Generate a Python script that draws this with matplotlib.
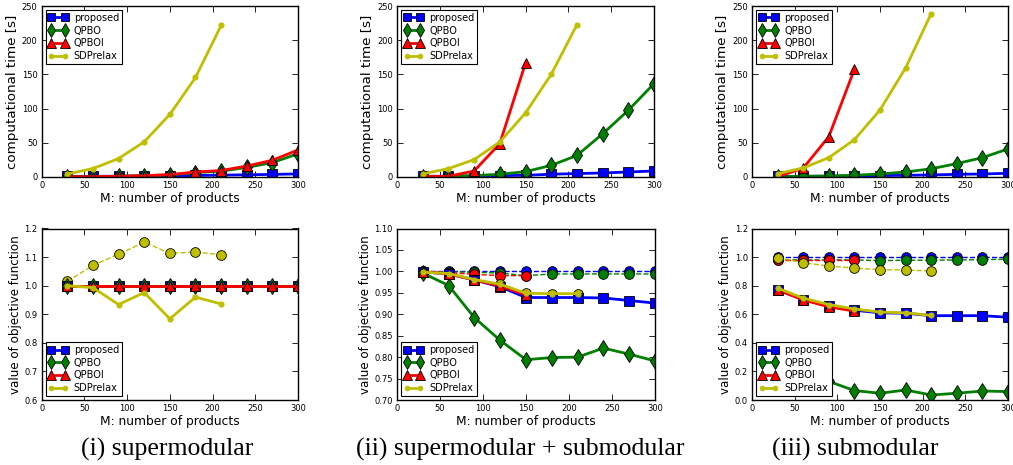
import matplotlib
matplotlib.use("Agg")
import matplotlib.pyplot as plt

# ---------------- data ----------------
M = [30, 60, 90, 120, 150, 180, 210, 240, 270, 300]

# (i) supermodular : computational time
t1_proposed = [1.0, 1.0, 1.2, 1.5, 1.8, 2.2, 2.7, 3.2, 3.8, 4.5]
t1_qpbo     = [0.3, 0.5, 1.0, 2.0, 3.0, 6.5, 8.5, 14.0, 21.0, 34.0]
t1_qpboi    = [0.3, 0.5, 1.0, 2.0, 3.5, 7.3, 9.5, 16.0, 24.5, 39.5]
t1_sdp      = [4.4, 12.3, 27.0, 51.5, 91.5, 145.5, 221.5]

# (ii) supermodular + submodular : computational time
t2_proposed = [1.0, 1.2, 1.5, 2.0, 2.5, 4.0, 5.0, 5.9, 7.3, 8.8]
t2_qpbo     = [0.5, 1.0, 2.0, 4.0, 7.8, 17.0, 31.5, 63.0, 97.5, 136.5]
t2_qpboi    = [0.5, 1.0, 8.8, 48.8, 166.5]
t2_sdp      = [4.4, 12.3, 25.4, 51.2, 93.6, 150.0, 222.5]

# (iii) submodular : computational time
t3_proposed = [1.0, 1.0, 1.2, 1.5, 2.0, 2.5, 3.0, 3.9, 4.4, 5.4]
t3_qpbo     = [0.5, 1.0, 1.5, 2.5, 4.4, 7.3, 12.0, 19.6, 28.3, 41.0]
t3_qpboi    = [0.5, 13.0, 59.0, 157.5]
t3_sdp      = [4.9, 13.2, 28.3, 54.6, 98.0, 159.4, 239.0]

# (i) supermodular : objective (solid) and bound (dashed)
v1_proposed = [1.0] * 10
v1_qpbo     = [1.0] * 10
v1_qpboi    = [1.0] * 10
v1_sdp      = [1.0, 0.993, 0.934, 0.976, 0.884, 0.960, 0.936]
d1_proposed = [1.0] * 10
d1_qpbo     = [1.0] * 10
d1_qpboi    = [1.0] * 10
d1_sdp      = [1.015, 1.071, 1.110, 1.152, 1.113, 1.118, 1.108]

# (ii) supermodular + submodular : objective / bound
v2_proposed = [0.999, 0.994, 0.980, 0.964, 0.939, 0.939, 0.939, 0.938, 0.932, 0.926]
v2_qpbo     = [0.996, 0.967, 0.892, 0.839, 0.794, 0.799, 0.800, 0.821, 0.807, 0.791]
v2_qpboi    = [0.999, 0.994, 0.980, 0.966, 0.945]
v2_sdp      = [0.998, 0.995, 0.981, 0.970, 0.949, 0.948, 0.948]
d2_proposed = [1.0] * 10
d2_qpbo     = [1.0, 0.999, 0.998, 0.996, 0.990, 0.994, 0.994, 0.994, 0.994, 0.994]
d2_qpboi    = [1.0, 0.997, 0.993, 0.990, 0.990]
d2_sdp      = [0.999, 0.995, 0.981, 0.970, 0.949, 0.948, 0.948]

# (iii) submodular : objective / bound
v3_proposed = [0.769, 0.703, 0.661, 0.628, 0.610, 0.607, 0.590, 0.590, 0.590, 0.579]
v3_qpbo     = [0.26, 0.18, 0.13, 0.066, 0.047, 0.070, 0.035, 0.047, 0.063, 0.059]
v3_qpboi    = [0.772, 0.700, 0.652, 0.622]
v3_sdp      = [0.783, 0.713, 0.668, 0.637, 0.615, 0.610, 0.592]
d3_proposed = [1.0] * 10
d3_qpbo     = [0.980, 0.980, 0.980, 0.980, 0.975, 0.978, 0.978, 0.980, 0.982, 0.985]
d3_qpboi    = [0.980, 0.980, 0.980, 0.980]
d3_sdp      = [0.996, 0.961, 0.937, 0.923, 0.912, 0.910, 0.902]

labels = ["proposed", "QPBO", "QPBOI", "SDPrelax"]
captions = ["(i) supermodular", "(ii) supermodular + submodular", "(iii) submodular"]

# ---------------- style ----------------
colors = ["b", "g", "r", "y"]
markers = ["s", "d", "^", "o"]
msizes = [6.5, 8, 7.5, 3.8]

plt.rcParams.update({
    "font.family": "DejaVu Sans",
    "xtick.direction": "in", "ytick.direction": "in",
    "xtick.top": True, "ytick.right": True,
    "xtick.major.size": 4, "ytick.major.size": 4,
    "xtick.major.width": 0.6, "ytick.major.width": 0.6,
    "xtick.labelsize": 6, "ytick.labelsize": 6,
    "xtick.major.pad": 3, "ytick.major.pad": 3,
    "axes.linewidth": 1.0,
})

W, H = 1013, 465
fig = plt.figure(figsize=(W / 100, H / 100), dpi=100)

def rect(l, t, r, b):
    return [l / W, 1 - b / H, (r - l) / W, (b - t) / H]

top_rects = [rect(41.7, 6, 298, 177), rect(397, 6, 654, 177), rect(752, 6, 1008, 177)]
bot_rects = [rect(41.7, 228.5, 298, 400), rect(397, 228.5, 655, 400), rect(752, 228.5, 1008, 400)]

time_data = [
    (t1_proposed, t1_qpbo, t1_qpboi, t1_sdp),
    (t2_proposed, t2_qpbo, t2_qpboi, t2_sdp),
    (t3_proposed, t3_qpbo, t3_qpboi, t3_sdp),
]
val_data = [
    (v1_proposed, v1_qpbo, v1_qpboi, v1_sdp),
    (v2_proposed, v2_qpbo, v2_qpboi, v2_sdp),
    (v3_proposed, v3_qpbo, v3_qpboi, v3_sdp),
]
bnd_data = [
    (d1_proposed, d1_qpbo, d1_qpboi, d1_sdp),
    (d2_proposed, d2_qpbo, d2_qpboi, d2_sdp),
    (d3_proposed, d3_qpbo, d3_qpboi, d3_sdp),
]
bot_ylims = [(0.6, 1.2, 0.1, "%.1f"), (0.70, 1.10, 0.05, "%.2f"), (0.0, 1.2, 0.2, "%.1f")]

def draw_solid(ax, series):
    for k, ys in enumerate(series):
        mec = "y" if k == 3 else "k"
        ax.plot(M[:len(ys)], ys, color=colors[k], lw=2, marker=markers[k],
                ms=msizes[k], mec=mec, mew=0.6, label=labels[k])

def legend(ax, loc):
    lg = ax.legend(loc=loc, fontsize=7, numpoints=2, handlelength=2.0,
                   fancybox=False, framealpha=1, borderpad=0.3,
                   labelspacing=0.28, handletextpad=0.6, borderaxespad=0.4,
                   markerscale=0.9)
    lg.get_frame().set_edgecolor("k")
    lg.get_frame().set_linewidth(0.8)

for i in range(3):
    ax = fig.add_axes(top_rects[i])
    draw_solid(ax, time_data[i])
    ax.set_xlim(0, 300)
    ax.set_ylim(0, 250)
    ax.set_xticks(range(0, 301, 50))
    ax.set_yticks(range(0, 251, 50))
    ax.set_xlabel("M: number of products", fontsize=8.8, labelpad=1)
    ax.set_ylabel("computational time [s]", fontsize=9.7, labelpad=2)
    legend(ax, "upper left")

    ax = fig.add_axes(bot_rects[i])
    for k, ys in enumerate(bnd_data[i]):
        ax.plot(M[:len(ys)], ys, color=colors[k], lw=1, ls="--", marker="o",
                ms=7, mec="k", mew=0.6)
    draw_solid(ax, val_data[i])
    lo, hi, st, fmt = bot_ylims[i]
    ax.set_xlim(0, 300)
    ax.set_ylim(lo, hi)
    n = int(round((hi - lo) / st))
    ticks = [lo + j * st for j in range(n + 1)]
    ax.set_yticks(ticks)
    ax.set_yticklabels([fmt % t for t in ticks])
    ax.set_xticks(range(0, 301, 50))
    ax.set_xlabel("M: number of products", fontsize=8.8, labelpad=1)
    ax.set_ylabel("value of objective function", fontsize=8.6, labelpad=2)
    legend(ax, "lower left")

cap_x = [167, 520, 855]
for cx, txt in zip(cap_x, captions):
    fig.text(cx / W, 1 - 449 / H, txt, ha="center", va="center",
             fontsize=18.5, family=["Liberation Serif", "DejaVu Serif"])

fig.savefig("out.png", dpi=100)
